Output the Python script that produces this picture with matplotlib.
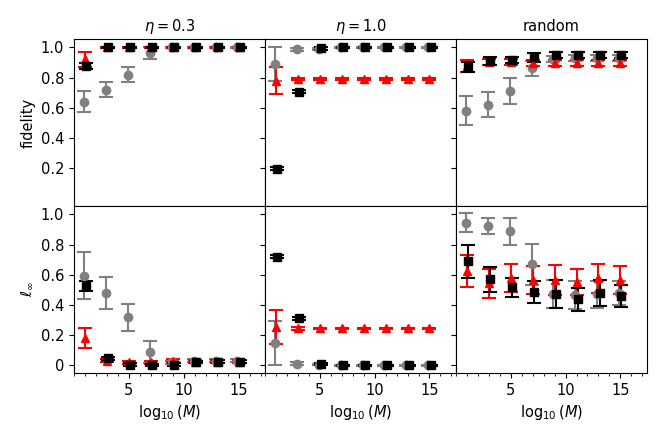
import numpy as np
import matplotlib
matplotlib.use("Agg")
import matplotlib.pyplot as plt
import matplotlib.ticker as ticker

plt.rcParams["font.size"] = 10.5
plt.rcParams["axes.titlesize"] = 10.5
plt.rcParams["axes.labelsize"] = 10.5

logM = [1, 3, 5, 7, 9, 11, 13, 15]
titles = [r"$\eta = 0.3$", r"$\eta = 1.0$", "random"]

# fidelity (top row): gray circles, red triangles, black squares
fid_gray = [
    [0.64, 0.72, 0.82, 0.96, 1.0, 1.0, 1.0, 1.0],
    [0.89, 0.987, 0.99, 1.0, 1.0, 1.0, 1.0, 1.0],
    [0.58, 0.62, 0.71, 0.86, 0.92, 0.93, 0.93, 0.93],
]
fid_gray_err = [
    [0.07, 0.05, 0.05, 0.04, 0.005, 0.005, 0.005, 0.005],
    [0.11, 0.01, 0.005, 0.005, 0.005, 0.005, 0.005, 0.005],
    [0.095, 0.083, 0.085, 0.05, 0.02, 0.02, 0.02, 0.02],
]
fid_red = [
    [0.92, 1.0, 1.0, 1.0, 1.0, 1.0, 1.0, 1.0],
    [0.78, 0.79, 0.79, 0.79, 0.79, 0.79, 0.79, 0.79],
    [0.875, 0.90, 0.90, 0.895, 0.895, 0.895, 0.895, 0.895],
]
fid_red_err = [
    [0.05, 0.005, 0.005, 0.005, 0.005, 0.005, 0.005, 0.005],
    [0.09, 0.008, 0.005, 0.005, 0.005, 0.005, 0.005, 0.005],
    [0.04, 0.02, 0.02, 0.02, 0.02, 0.02, 0.02, 0.02],
]
fid_black = [
    [0.877, 1.0, 1.0, 1.0, 1.0, 1.0, 1.0, 1.0],
    [0.197, 0.707, 0.993, 1.0, 1.0, 1.0, 1.0, 1.0],
    [0.87, 0.91, 0.916, 0.934, 0.95, 0.95, 0.95, 0.95],
]
fid_black_err = [
    [0.02, 0.005, 0.005, 0.005, 0.005, 0.005, 0.005, 0.005],
    [0.01, 0.01, 0.008, 0.005, 0.005, 0.005, 0.005, 0.005],
    [0.035, 0.025, 0.02, 0.03, 0.02, 0.02, 0.02, 0.02],
]

# l_inf (bottom row)
linf_gray = [
    [0.593, 0.477, 0.319, 0.088, 0.02, 0.03, 0.03, 0.03],
    [0.148, 0.011, 0.005, 0.0, 0.0, 0.0, 0.0, 0.0],
    [0.943, 0.923, 0.888, 0.67, 0.473, 0.466, 0.47, 0.477],
]
linf_gray_err = [
    [0.155, 0.105, 0.088, 0.075, 0.01, 0.01, 0.01, 0.01],
    [0.148, 0.01, 0.005, 0.005, 0.005, 0.005, 0.005, 0.005],
    [0.063, 0.05, 0.09, 0.135, 0.094, 0.09, 0.088, 0.08],
]
linf_red = [
    [0.18, 0.03, 0.02, 0.02, 0.03, 0.025, 0.025, 0.025],
    [0.254, 0.246, 0.245, 0.245, 0.245, 0.245, 0.245, 0.245],
    [0.624, 0.543, 0.576, 0.565, 0.565, 0.554, 0.576, 0.565],
]
linf_red_err = [
    [0.065, 0.01, 0.01, 0.01, 0.01, 0.008, 0.008, 0.008],
    [0.113, 0.01, 0.005, 0.005, 0.005, 0.005, 0.005, 0.005],
    [0.105, 0.094, 0.092, 0.09, 0.097, 0.086, 0.095, 0.09],
]
linf_black = [
    [0.525, 0.049, 0.005, 0.003, 0.005, 0.022, 0.025, 0.025],
    [0.719, 0.312, 0.009, 0.0, 0.0, 0.0, 0.0, 0.0],
    [0.69, 0.569, 0.517, 0.488, 0.473, 0.438, 0.477, 0.46],
]
linf_black_err = [
    [0.033, 0.01, 0.008, 0.008, 0.008, 0.008, 0.008, 0.008],
    [0.01, 0.01, 0.008, 0.005, 0.005, 0.005, 0.005, 0.005],
    [0.11, 0.083, 0.064, 0.072, 0.09, 0.075, 0.086, 0.075],
]

fig, axes = plt.subplots(2, 3, figsize=(6.64, 4.43), dpi=100, sharex=True)
fig.subplots_adjust(left=0.1114, right=0.974, top=0.912, bottom=0.158,
                    wspace=0, hspace=0)

x = np.array(logM, dtype=float)
kw = dict(linestyle="none", capsize=5, elinewidth=1.5, capthick=1.5, markersize=6)

rows = [
    (fid_gray, fid_gray_err, fid_red, fid_red_err, fid_black, fid_black_err),
    (linf_gray, linf_gray_err, linf_red, linf_red_err, linf_black, linf_black_err),
]

for r, (g, ge, rd, rde, b, be) in enumerate(rows):
    for c in range(3):
        ax = axes[r, c]
        ax.errorbar(x - 0.1, g[c], yerr=ge[c], marker="o", color="gray", **kw)
        ax.errorbar(x, rd[c], yerr=rde[c], marker="^", color="red", **kw)
        ax.errorbar(x + 0.1, b[c], yerr=be[c], marker="s", color="black", **kw)
        ax.set_xlim(0, 17.4)
        ax.set_ylim(-0.05, 1.055)
        ax.set_xticks([5, 10, 15])
        ax.xaxis.set_minor_locator(ticker.MultipleLocator(1))
        if r == 0:
            ax.set_yticks([0.2, 0.4, 0.6, 0.8, 1.0])
            ax.set_yticklabels(["0.2", "0.4", "0.6", "0.8", "1.0"])
            ax.set_title(titles[c])
        else:
            ax.set_yticks([0, 0.2, 0.4, 0.6, 0.8, 1.0])
            ax.set_yticklabels(["0", "0.2", "0.4", "0.6", "0.8", "1.0"])
            ax.set_xlabel(r"$\log_{10}(M)$")
        if c > 0:
            ax.tick_params(labelleft=False)

axes[0, 0].set_ylabel("fidelity")
axes[1, 0].set_ylabel(r"$\ell_\infty$")

plt.savefig("out.png")
